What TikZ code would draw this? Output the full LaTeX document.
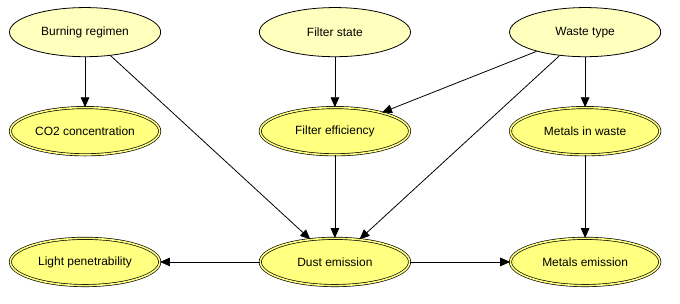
\documentclass[tikz,border=0pt]{standalone}
\usepackage{fontspec}
\setmainfont{Liberation Sans}
\usetikzlibrary{arrows.meta,shapes.geometric}
\definecolor{rootfill}{RGB}{255,255,190}
\definecolor{varfill}{RGB}{255,255,128}

\begin{document}
\begin{tikzpicture}[>={Triangle[length=7.5pt,width=6.5pt]},font=\fontsize{9}{11}\selectfont,
 root/.style={ellipse,draw,fill=rootfill,line width=0.6pt,minimum width=4.0cm,minimum height=1.3cm,inner sep=0pt},
 var/.style={ellipse,draw,fill=varfill,line width=0.5pt,double=varfill,double distance=1.2pt,minimum width=3.95cm,minimum height=1.25cm,inner sep=0pt},
 edge/.style={->,line width=0.6pt}]
\useasboundingbox (0,0) rectangle (17.99,-8.04);
\node[root] (burn) at (2.25,-0.85) {Burning regimen};
\node[root] (fstate) at (8.86,-0.85) {Filter state};
\node[root] (waste) at (15.48,-0.85) {Waste type};
\node[var] (co2) at (2.25,-3.47) {CO2 concentration};
\node[var] (feff) at (8.86,-3.47) {Filter efficiency};
\node[var] (metw) at (15.48,-3.47) {Metals in waste};
\node[var] (light) at (2.25,-6.93) {Light penetrability};
\node[var] (dust) at (8.86,-6.93) {Dust emission};
\node[var] (mete) at (15.48,-6.93) {Metals emission};
\draw[edge] (burn) -- (co2);
\draw[edge] (burn) -- (dust);
\draw[edge] (fstate) -- (feff);
\draw[edge] (waste) -- (feff);
\draw[edge] (waste) -- (dust);
\draw[edge] (waste) -- (metw);
\draw[edge] (feff) -- (dust);
\draw[edge] (metw) -- (mete);
\draw[edge] (dust) -- (light);
\draw[edge] (dust) -- (mete);
\end{tikzpicture}
\end{document}
